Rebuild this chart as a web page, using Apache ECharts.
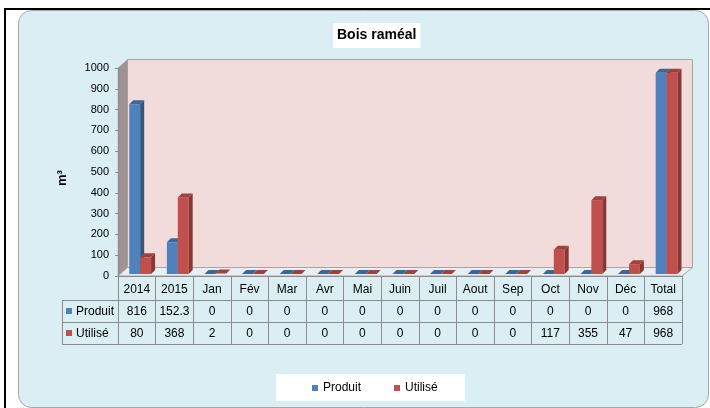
<!DOCTYPE html>
<html>
<head>
<meta charset="utf-8">
<script src="https://cdn.jsdelivr.net/npm/echarts@6/dist/echarts.min.js"></script>
<style>
html,body{margin:0;padding:0;background:#fff;}
#c{width:710px;height:408px;}
</style>
</head>
<body>
<div id="c"></div>
<script>
// ---- data ----
const categories = ['2014','2015','Jan','Fév','Mar','Avr','Mai','Juin','Juil','Aout','Sep','Oct','Nov','Déc','Total'];
const produit = [816, 152.3, 0, 0, 0, 0, 0, 0, 0, 0, 0, 0, 0, 0, 968];
const utilise = [80, 368, 2, 0, 0, 0, 0, 0, 0, 0, 0, 117, 355, 47, 968];
const seriesNames = ['Produit', 'Utilisé'];
const yTicks = [0, 1000, 100]; // min, max, interval

// ---- layout / style ----
const GL = 118, GR = 682, GT = 68, GB = 276;
const DX = 9, DY = -9;
const FONT = 'Liberation Sans, Arial, sans-serif';
const colors = {
  front: ['#4F81BD', '#C0504D'],
  side: ['#34557E', '#8A3734'],
  top: ['#3F6699', '#A0413E']
};
const gridLine = '#8C8C8C';

const chart = echarts.init(document.getElementById('c'), null, {renderer: 'canvas'});

function renderBar(params, api) {
  const s = params.seriesIndex;
  const idx = api.value(0), v = api.value(1);
  const base = api.coord([idx, 0]);
  const top = api.coord([idx, v]);
  const bw = api.size([1, 0])[0];
  const w = bw * 0.29;
  const left = base[0] - bw * 0.2 + s * w;
  const y0 = base[1] - 2;
  const yt = top[1] - 2;
  const d = 4;
  const children = [];
  if (y0 - yt > 0.5) {
    children.push({type: 'rect', shape: {x: left, y: yt, width: w, height: y0 - yt},
      style: {fill: colors.front[s]}});
    children.push({type: 'polygon', shape: {points: [[left + w, yt], [left + w + d, yt - d], [left + w + d, y0 - d], [left + w, y0]]},
      style: {fill: colors.side[s]}});
  }
  children.push({type: 'polygon', shape: {points: [[left, yt], [left + d, yt - d], [left + w + d, yt - d], [left + w, yt]]},
    style: {fill: colors.top[s]}});
  return {type: 'group', children: children};
}

const graphics = [
  // outer black frame
  {type: 'rect', shape: {x: 4, y: 8, width: 706, height: 2}, style: {fill: '#000'}, z: -20},
  {type: 'rect', shape: {x: 4, y: 8, width: 2, height: 400}, style: {fill: '#000'}, z: -20},
  // panel
  {type: 'rect', shape: {x: 18.5, y: 10.5, width: 690, height: 397, r: 13},
    style: {fill: '#DAEEF3', stroke: '#A6A6A6', lineWidth: 1}, z: -19},
  // back wall
  {type: 'rect', shape: {x: GL + DX + 0.5, y: GT + DY + 0.5, width: GR - GL + 1, height: GB - GT},
    style: {fill: '#F2DCDB', stroke: '#A6A6A6', lineWidth: 1}, z: -10},
  // left wall
  {type: 'polygon', shape: {points: [[GL, GT], [GL + DX + 0.5, GT + DY + 0.5], [GL + DX + 0.5, GB + DY + 0.5], [GL, GB]]},
    style: {fill: '#A09291', stroke: '#A6A6A6', lineWidth: 0.5}, z: -9},
  // floor
  {type: 'polygon', shape: {points: [[GL, GB], [GL + DX + 0.5, GB + DY + 0.5], [GR + DX + 1.5, GB + DY + 0.5], [GR, GB]]},
    style: {fill: '#E8EEF1', stroke: '#A6A6A6', lineWidth: 1}, z: -9},
  // table horizontal lines
  {type: 'line', shape: {x1: 62, y1: 300.5, x2: GR, y2: 300.5}, style: {stroke: gridLine, lineWidth: 1}, z: 5},
  {type: 'line', shape: {x1: 62, y1: 322.5, x2: GR, y2: 322.5}, style: {stroke: gridLine, lineWidth: 1}, z: 5},
  {type: 'line', shape: {x1: 62, y1: 344.5, x2: GR, y2: 344.5}, style: {stroke: gridLine, lineWidth: 1}, z: 5},
  {type: 'line', shape: {x1: 62.5, y1: 300.5, x2: 62.5, y2: 344.5}, style: {stroke: gridLine, lineWidth: 1}, z: 5},
  // row labels
  {type: 'rect', shape: {x: 66, y: 308, width: 6, height: 6}, style: {fill: colors.front[0]}, z: 5},
  {type: 'text', x: 76, y: 311.5, style: {text: seriesNames[0], font: '12px ' + FONT, fill: '#000', textVerticalAlign: 'middle', verticalAlign: 'middle'}, z: 5},
  {type: 'rect', shape: {x: 66, y: 330, width: 6, height: 6}, style: {fill: colors.front[1]}, z: 5},
  {type: 'text', x: 76, y: 333.5, style: {text: seriesNames[1], font: '12px ' + FONT, fill: '#000', textVerticalAlign: 'middle', verticalAlign: 'middle'}, z: 5},
  // y axis title
  {type: 'text', x: 62, y: 178, rotation: Math.PI / 2,
    style: {text: 'm³', font: 'bold 13px ' + FONT, fill: '#000', align: 'center', verticalAlign: 'middle', textAlign: 'center', textVerticalAlign: 'middle'}, z: 5}
];

const option = {
  animation: false,
  backgroundColor: '#fff',
  title: {
    text: 'Bois raméal', left: 333, top: 23,
    backgroundColor: '#fff', padding: [5, 4, 5, 4],
    textStyle: {fontFamily: FONT, fontWeight: 'bold', fontSize: 14, color: '#000', lineHeight: 15}
  },
  legend: {
    data: seriesNames, left: 276, top: 374,
    backgroundColor: '#fff', padding: [8, 27, 7, 36],
    icon: 'rect', itemWidth: 6, itemHeight: 6, itemGap: 33,
    textStyle: {fontFamily: FONT, fontSize: 12, color: '#000'}
  },
  grid: {left: GL, right: 710 - GR, top: GT, bottom: 408 - GB, containLabel: false},
  xAxis: {
    type: 'category', data: categories,
    axisLine: {show: true, lineStyle: {color: gridLine}},
    axisTick: {show: true, length: 68, lineStyle: {color: gridLine}, interval: 0},
    axisLabel: {
      interval: 0, margin: 3,
      formatter: function (val, i) {
        return '{h|' + val + '}\n{v|' + produit[i] + '}\n{v|' + utilise[i] + '}';
      },
      rich: {
        h: {fontFamily: FONT, fontSize: 12, color: '#000', lineHeight: 22, height: 22},
        v: {fontFamily: FONT, fontSize: 12, color: '#000', lineHeight: 22, height: 22}
      }
    },
    splitLine: {show: false}
  },
  yAxis: {
    type: 'value', min: yTicks[0], max: yTicks[1], interval: yTicks[2],
    axisLine: {show: true, lineStyle: {color: gridLine}},
    axisTick: {show: true, length: 3, lineStyle: {color: gridLine}},
    axisLabel: {margin: 9, fontFamily: FONT, fontSize: 11, color: '#000', formatter: function (v) { return String(v); }},
    splitLine: {show: false}
  },
  graphic: {elements: graphics},
  series: [
    {name: seriesNames[0], type: 'custom', renderItem: renderBar, itemStyle: {color: colors.front[0]},
      data: produit.map((v, i) => [i, v]), encode: {x: 0, y: 1}, z: 3},
    {name: seriesNames[1], type: 'custom', renderItem: renderBar, itemStyle: {color: colors.front[1]},
      data: utilise.map((v, i) => [i, v]), encode: {x: 0, y: 1}, z: 3}
  ]
};
chart.setOption(option);
</script>
</body>
</html>
